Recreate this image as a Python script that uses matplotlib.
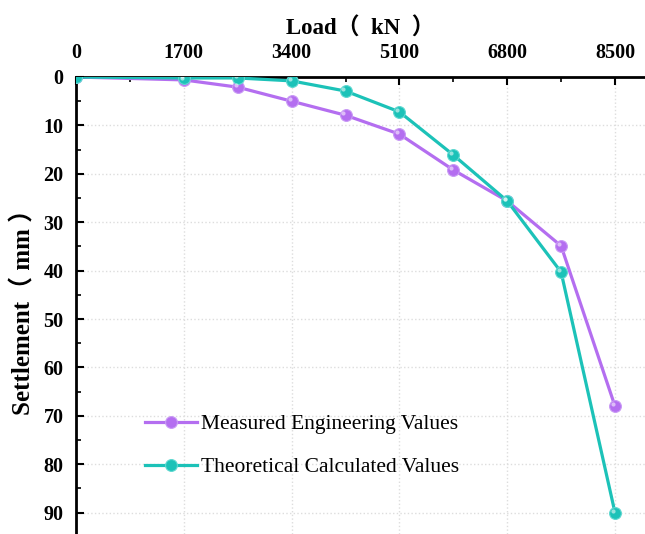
import numpy as np
import matplotlib
matplotlib.use("Agg")
import matplotlib.pyplot as plt
import matplotlib.transforms as mtransforms
from matplotlib.ticker import MultipleLocator

# Data
loads = [0, 1700, 2550, 3400, 4250, 5100, 5950, 6800, 7650, 8500]
measured = [0, 0.6, 2.1, 5.0, 7.9, 11.8, 19.2, 25.6, 34.9, 68.0]
theoretical = [0, 0.2, 0.2, 0.8, 2.9, 7.2, 16.1, 25.6, 40.3, 90.0]
x_ticks = [0, 1700, 3400, 5100, 6800, 8500]
y_ticks = [0, 10, 20, 30, 40, 50, 60, 70, 80, 90]

serif = ["Liberation Serif", "Noto Sans CJK SC", "DejaVu Serif"]
plt.rcParams["font.family"] = serif

purple = "#B46EF0"
teal = "#1CC2B8"

fig = plt.figure(figsize=(6.45, 5.34), dpi=100)
ax = fig.add_axes([76 / 645, 0.0, 1 - 76 / 645, 1 - 77 / 534])

ax.plot(loads, measured, color=purple, lw=2.3, marker="o", ms=8.5,
        mfc=purple, mec="#C99AF5", mew=0.8, label="Measured Engineering Values", zorder=3)
ax.plot(loads, theoretical, color=teal, lw=2.3, marker="o", ms=8.5,
        mfc=teal, mec="#5FD8D0", mew=0.8, label="Theoretical Calculated Values", zorder=3)

# small highlight to mimic the shaded sphere markers
shift = mtransforms.ScaledTranslation(-1.5 / 72, 1.5 / 72, fig.dpi_scale_trans)
for ys in (measured, theoretical):
    ax.plot(loads, ys, ls="none", marker="o", ms=3, mfc="white", mec="none",
            alpha=0.55, transform=ax.transData + shift, zorder=4)

ax.set_xlim(0, 8973)
ax.set_ylim(94.4, 0)

ax.xaxis.tick_top()
ax.xaxis.set_label_position("top")
ax.set_xticks(x_ticks)
ax.set_yticks(y_ticks)
ax.xaxis.set_minor_locator(MultipleLocator(850))
ax.yaxis.set_minor_locator(MultipleLocator(5))
ax.tick_params(axis="both", which="major", direction="in", length=6, width=1.5,
               labelsize=14.5)
ax.tick_params(axis="x", which="major", pad=10)
ax.tick_params(axis="y", which="major", pad=9)
ax.tick_params(axis="both", which="minor", direction="in", length=3.5, width=1.2)
for lab in ax.get_xticklabels() + ax.get_yticklabels():
    lab.set_fontweight("bold")

ax.set_xlabel("Load（  kN  ）", fontsize=16.5, fontweight="bold", labelpad=6)
ax.set_ylabel("Settlement（ mm ）", fontsize=18, fontweight="bold", labelpad=6)

for side in ["left", "top"]:
    ax.spines[side].set_linewidth(2)
ax.spines["right"].set_visible(False)
ax.spines["bottom"].set_visible(False)

ax.grid(True, which="major", color="#DDDDDD", linestyle=":", linewidth=1)
ax.set_axisbelow(True)

ax.legend(loc="lower left", bbox_to_anchor=(0.088, 0.082), frameon=False,
          fontsize=15.5, handlelength=2.4, handletextpad=0.2, labelspacing=1.05)

fig.savefig("out.png", dpi=100)
